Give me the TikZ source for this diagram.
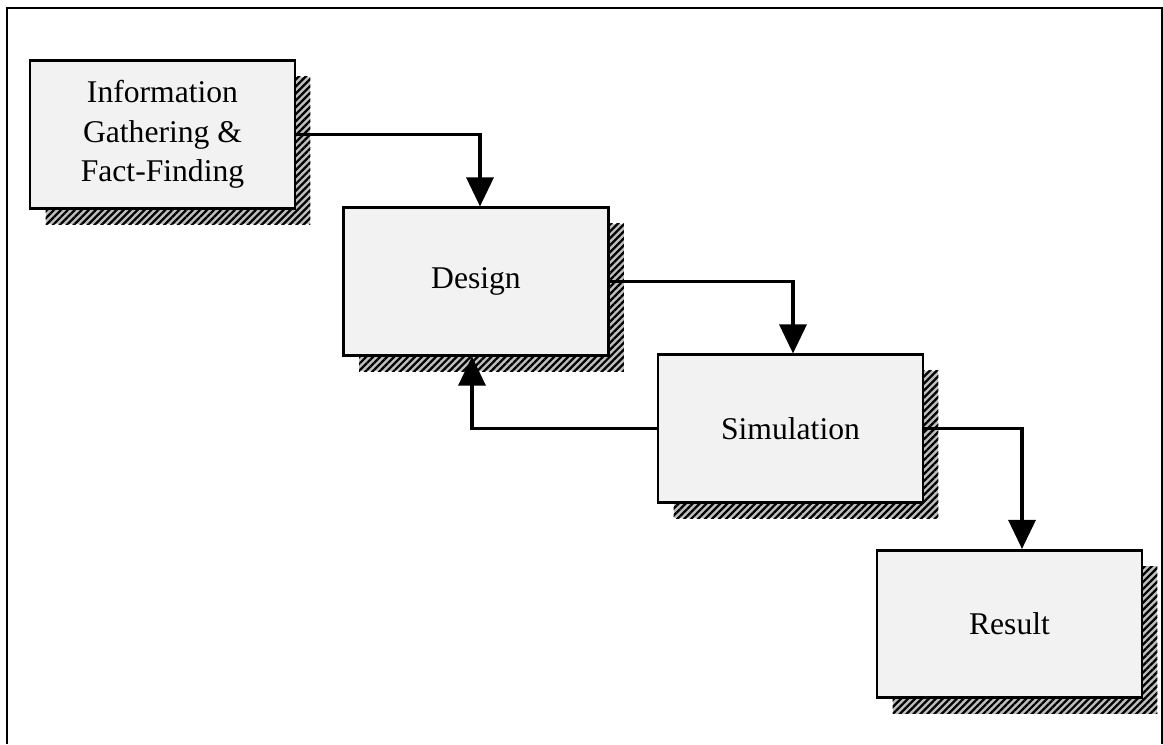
\documentclass[tikz,border=0pt]{standalone}
\usepackage{fontspec}
\setmainfont{Liberation Serif}
\usetikzlibrary{arrows.meta,patterns.meta}

\begin{document}
\begin{tikzpicture}[
                x=0.02cm, y=-0.02cm,
                >={Triangle[width=0.54cm, length=0.58cm]},
                flow/.style={->, line width=1.8pt},
                stage/.style={draw, line width=1.5pt, fill=gray!10,
                    minimum width=5.3cm, minimum height=2.95cm,
                    align=center, font=\fontsize{18}{22.5}\selectfont,
                    preaction={fill=gray!50, transform canvas={xshift=0.31cm, yshift=-0.32cm}},
                    preaction={pattern={Lines[angle=45, distance=2.8pt, line width=1.3pt]},
                        pattern color=black, transform canvas={xshift=0.31cm, yshift=-0.32cm}}}
            ]
            \useasboundingbox (0,0) rectangle (1163,744);

            % frame, open at the bottom
            \draw[line width=1.1pt] (7,744) -- (7,8) -- (1162,8) -- (1162,744);

            % stages
            \node[stage] (info) at (162.5,134.5) {Information\\Gathering \&\\Fact-Finding};
            \node[stage] (design) at (476,281.5) {Design};
            \node[stage] (sim) at (790.5,428.5) {Simulation};
            \node[stage] (result) at (1009.5,624) {Result};

            % connectors
            \draw[flow] (info.east) -| ([xshift=0.08cm]design.north);
            \draw[flow] (design.east) -| ([xshift=0.05cm]sim.north);
            \draw[flow] (sim.west) -| ([xshift=-0.08cm]design.south);
            \draw[flow] (sim.east) -| ([xshift=0.25cm]result.north);
        \end{tikzpicture}
\end{document}
